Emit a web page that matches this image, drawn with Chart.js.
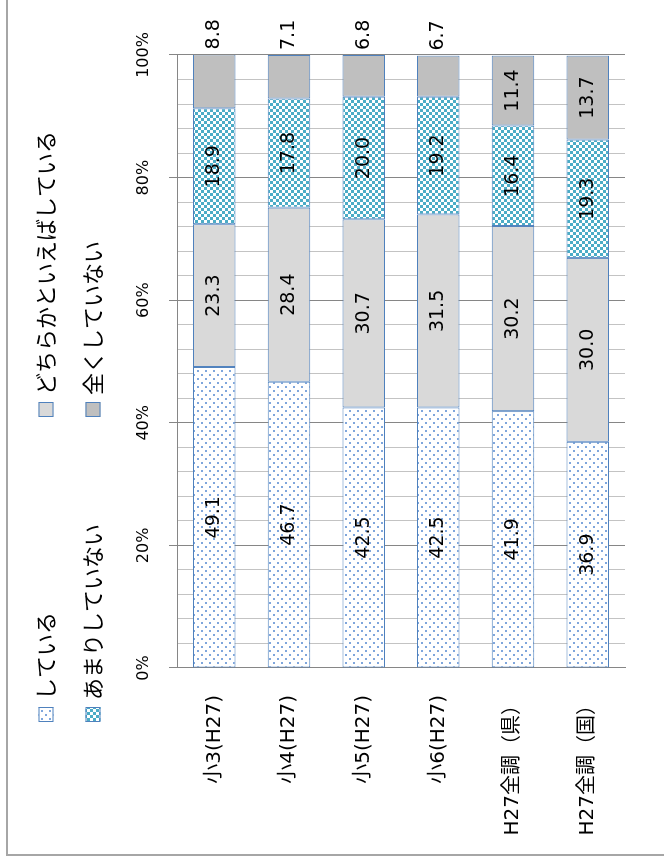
<!DOCTYPE html>
<html lang="ja">
<head>
<meta charset="utf-8">
<title>している割合</title>
<script src="https://cdn.jsdelivr.net/npm/chart.js@4.4.1/dist/chart.umd.min.js"></script>
<style>
  html, body { margin: 0; padding: 0; width: 664px; height: 865px; overflow: hidden; background: #fff; }
  #frame { position: absolute; left: 6px; top: -10px; width: 700px; height: 864px; border-left: 2px solid #a6a6a6; border-bottom: 2px solid #a6a6a6; }
  /* chart is drawn lying down, then turned a quarter to the left */
  #wrap { position: absolute; left: 0; top: 0; width: 865px; height: 664px; transform-origin: 0 0; transform: translate(0, 865px) rotate(-90deg); }
</style>
</head>
<body>
<div id="frame"></div>
<div id="wrap"><canvas id="chart" width="865" height="664"></canvas></div>
<script>
const categories = ['小3(H27)', '小4(H27)', '小5(H27)', '小6(H27)', 'H27全調（県）', 'H27全調（国）'];
const seriesNames = ['している', 'どちらかといえばしている', 'あまりしていない', '全くしていない'];
const doing = [49.1, 46.7, 42.5, 42.5, 41.9, 36.9];
const ratherDoing = [23.3, 28.4, 30.7, 31.5, 30.2, 30.0];
const notMuch = [18.9, 17.8, 20.0, 19.2, 16.4, 19.3];
const notAtAll = [8.8, 7.1, 6.8, 6.7, 11.4, 13.7];
const percentTicks = [0, 20, 40, 60, 80, 100];

const MAJOR = '#868686';
const MINOR = '#c3c3c3';
const EDGE = '#4f81bd';

const makePattern = (size, draw) => {
    const c = document.createElement('canvas');
    c.width = size;
    c.height = size;
    draw(c.getContext('2d'));
    return c.getContext('2d').createPattern(c, 'repeat');
};

const dotPattern = makePattern(8, g => {
    g.fillStyle = '#fff';
    g.fillRect(0, 0, 8, 8);
    g.fillStyle = '#7fa6dc';
    g.fillRect(1, 1, 2, 2);
    g.fillRect(5, 5, 2, 2);
});

const checkPattern = makePattern(6, g => {
    g.fillStyle = '#4bacc6';
    g.fillRect(0, 0, 6, 6);
    g.fillStyle = '#fff';
    g.fillRect(0, 0, 3, 3);
    g.fillRect(3, 3, 3, 3);
});

// value labels in the middle of each piece; short top pieces go past the bar end
const barLabels = {
    id: 'barLabels',
    afterDatasetsDraw(chart) {
        const ctx = chart.ctx;
        const last = chart.data.datasets.length - 1;
        ctx.save();
        ctx.font = '19px "DejaVu Sans"';
        ctx.fillStyle = '#000';
        ctx.textBaseline = 'middle';
        chart.data.datasets.forEach((ds, i) => {
            chart.getDatasetMeta(i).data.forEach((bar, j) => {
                const v = ds.data[j];
                const text = v.toFixed(1);
                if (i === last && v < 10) {
                    ctx.textAlign = 'left';
                    ctx.fillText(text, bar.x + 5, bar.y);
                } else {
                    ctx.textAlign = 'center';
                    ctx.fillText(text, (bar.x + bar.base) / 2, bar.y);
                }
            });
        });
        ctx.restore();
    }
};

// two-by-two legend, columns lined up like the office chart
const legendBox = {
    id: 'legendBox',
    afterDraw(chart) {
        const ctx = chart.ctx;
        const cols = [143, 448];
        const rows = [45.5, 92.5];
        ctx.save();
        ctx.font = '22px "Noto Sans CJK JP"';
        ctx.textBaseline = 'middle';
        ctx.textAlign = 'left';
        chart.data.datasets.forEach((ds, i) => {
            const x = cols[i % 2];
            const y = rows[Math.floor(i / 2)];
            ctx.fillStyle = ds.backgroundColor;
            ctx.fillRect(x, y - 7, 15, 15);
            ctx.strokeStyle = EDGE;
            ctx.lineWidth = 1;
            ctx.strokeRect(x + 0.5, y - 6.5, 14, 14);
            ctx.fillStyle = '#000';
            ctx.fillText(ds.label, x + 22, y);
        });
        ctx.restore();
    }
};

const isMajor = v => percentTicks.includes(v);
const barStyle = { borderColor: EDGE, borderWidth: 1, borderSkipped: false, barPercentage: 0.57, categoryPercentage: 1 };

new Chart(document.getElementById('chart'), {
    type: 'bar',
    data: {
        labels: categories,
        datasets: [
            { label: seriesNames[0], data: doing, backgroundColor: dotPattern, ...barStyle },
            { label: seriesNames[1], data: ratherDoing, backgroundColor: '#d9d9d9', ...barStyle },
            { label: seriesNames[2], data: notMuch, backgroundColor: checkPattern, ...barStyle },
            { label: seriesNames[3], data: notAtAll, backgroundColor: '#bfbfbf', ...barStyle }
        ]
    },
    options: {
        indexAxis: 'y',
        responsive: false,
        animation: false,
        devicePixelRatio: 1,
        layout: { padding: { top: 117, left: 12, right: 55, bottom: 24 } },
        plugins: {
            legend: { display: false },
            tooltip: { enabled: false }
        },
        scales: {
            x: {
                stacked: true,
                position: 'top',
                min: 0,
                max: 100,
                afterFit: s => { s.height = 60; },
                grid: {
                    color: c => (c.tick && isMajor(c.tick.value)) ? MAJOR : MINOR,
                    tickColor: c => (c.tick && isMajor(c.tick.value)) ? MAJOR : 'transparent',
                    tickLength: 8,
                    lineWidth: 1
                },
                border: { display: true, color: MAJOR, width: 1 },
                ticks: {
                    stepSize: 4,
                    maxTicksLimit: 26,
                    autoSkip: false,
                    maxRotation: 0,
                    padding: 16,
                    color: '#000',
                    font: { family: '"DejaVu Sans"', size: 16 },
                    callback: v => isMajor(v) ? v + '%' : ''
                }
            },
            y: {
                stacked: true,
                afterFit: s => { s.width = 185; },
                grid: { display: false, drawTicks: false },
                border: { display: true, color: MAJOR, width: 1 },
                ticks: {
                    padding: 27,
                    color: '#000',
                    font: { family: '"DejaVu Sans", "Noto Sans CJK JP"', size: 20 }
                }
            }
        }
    },
    plugins: [barLabels, legendBox]
});
</script>
</body>
</html>
